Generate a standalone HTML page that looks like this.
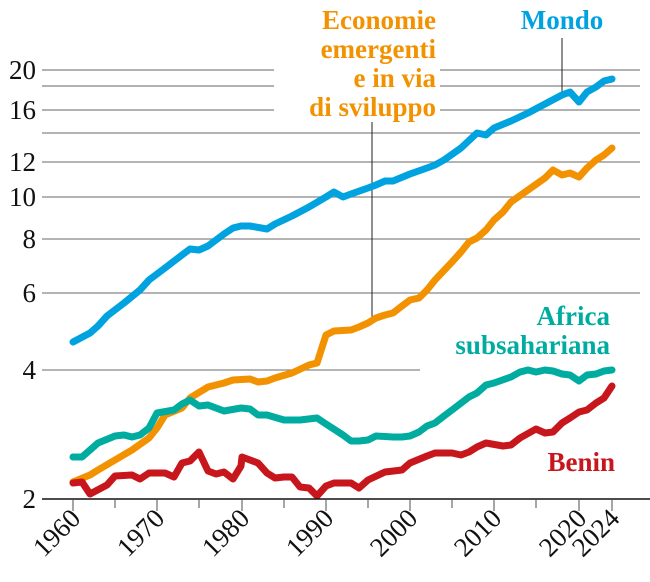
<!DOCTYPE html>
<html><head><meta charset="utf-8"><style>
html,body{margin:0;padding:0;background:#fff;}
svg{display:block;}
svg text{font-family:"Liberation Serif","DejaVu Serif",serif;}
</style></head><body>
<svg width="650" height="582" viewBox="0 0 650 582" font-family="Liberation Serif, serif">
<g stroke="#999" stroke-width="1.5">
<line x1="42" y1="70" x2="274" y2="70"/><line x1="440" y1="70" x2="640" y2="70"/>
<line x1="42" y1="86" x2="274" y2="86"/><line x1="440" y1="86" x2="640" y2="86"/>
<line x1="42" y1="110" x2="274" y2="110"/><line x1="440" y1="110" x2="640" y2="110"/>
</g>
<g stroke="#888" stroke-width="1.2">
<line x1="42" y1="133" x2="640" y2="133"/>
<line x1="42" y1="162" x2="640" y2="162"/>
<line x1="42" y1="197" x2="640" y2="197"/>
<line x1="42" y1="239" x2="640" y2="239"/>
<line x1="42" y1="293" x2="640" y2="293"/>
<line x1="42" y1="370" x2="420" y2="370"/>
</g>
<g font-size="27" fill="#111" text-anchor="end">
<text x="36" y="79">20</text><text x="36" y="119">16</text><text x="36" y="171">12</text>
<text x="36" y="206">10</text><text x="36" y="248">8</text><text x="36" y="302">6</text>
<text x="36" y="379">4</text><text x="36" y="508">2</text>
</g>
<g stroke="#777" stroke-width="1.3">
<line x1="73" y1="500" x2="73" y2="511"/><line x1="115" y1="500" x2="115" y2="508"/>
<line x1="157" y1="500" x2="157" y2="511"/><line x1="199" y1="500" x2="199" y2="508"/>
<line x1="242" y1="500" x2="242" y2="511"/><line x1="284" y1="500" x2="284" y2="508"/>
<line x1="326" y1="500" x2="326" y2="511"/><line x1="368" y1="500" x2="368" y2="508"/>
<line x1="410" y1="500" x2="410" y2="511"/><line x1="452" y1="500" x2="452" y2="508"/>
<line x1="494" y1="500" x2="494" y2="511"/><line x1="536" y1="500" x2="536" y2="508"/>
<line x1="579" y1="500" x2="579" y2="511"/><line x1="612" y1="500" x2="612" y2="511"/>
</g>
<g font-size="27" fill="#111" text-anchor="end">
<text transform="translate(82,520) rotate(-45)">1960</text>
<text transform="translate(166,520) rotate(-45)">1970</text>
<text transform="translate(251,520) rotate(-45)">1980</text>
<text transform="translate(335,520) rotate(-45)">1990</text>
<text transform="translate(419,520) rotate(-45)">2000</text>
<text transform="translate(503,520) rotate(-45)">2010</text>
<text transform="translate(588,520) rotate(-45)">2020</text>
<text transform="translate(621,520) rotate(-45)">2024</text>
</g>
<line x1="372" y1="122" x2="372" y2="318" stroke="#222" stroke-width="1"/>
<line x1="562" y1="38" x2="562" y2="95" stroke="#222" stroke-width="1"/>
<g fill="none" stroke-width="7" stroke-linejoin="round" stroke-linecap="round">
<polyline stroke="#00a3e0" points="73,342 90,333 98,326 107,316 124,303 140,290 149,280 165,268 182,255 190,249 199,250 208,246 224,234 233,228 241,226 250,226 267,229 275,224 292,216 309,207 326,197 334,192 343,197 351,194 368,188 376,185 385,181 393,181 410,174 427,168 435,165 444,160 461,148 477,133 486,135 494,128 511,121 528,113 545,104 562,95 570,92 579,102 587,92 596,87 604,81 612,79"/>
<polyline stroke="#f39200" points="73,482 90,475 98,470 115,460 132,450 149,438 157,428 165,415 182,408 190,398 208,387 224,383 233,380 250,379 258,382 267,381 275,378 292,373 309,365 317,363 326,335 334,331 351,330 359,327 368,323 376,318 385,315 393,313 402,306 410,300 419,298 427,290 435,280 452,262 461,252 469,242 477,238 486,230 494,220 503,212 511,202 528,190 545,178 553,170 562,175 570,173 579,177 587,168 596,160 604,155 612,148"/>
<polyline stroke="#00aca0" points="73,457 82,457 98,443 115,436 124,435 132,437 140,435 149,428 157,413 174,410 182,404 190,400 199,406 208,405 224,411 241,408 250,409 258,415 267,415 284,420 300,420 317,418 326,424 343,435 351,441 359,441 368,440 376,436 393,437 402,437 410,436 419,432 427,426 435,423 444,416 452,410 469,397 477,393 486,385 494,383 511,377 520,372 528,370 536,372 545,370 553,371 562,374 570,375 579,381 587,375 596,374 604,371 612,370"/>
<polyline stroke="#c8161d" points="73,483 82,482 90,494 107,485 115,476 132,475 140,479 149,473 165,473 174,477 182,463 190,461 199,452 208,471 216,474 224,472 233,479 241,466 242,457 258,463 267,473 275,478 284,477 292,477 300,487 309,488 317,496 326,486 334,483 351,483 359,488 368,480 385,472 402,470 410,463 427,456 435,453 452,453 461,455 469,452 477,447 486,443 503,446 511,445 520,438 536,429 545,433 553,432 562,423 570,418 579,412 587,410 596,403 604,398 612,386"/>
</g>
<line x1="42" y1="499" x2="650" y2="499" stroke="#111" stroke-width="1.5"/>
<g font-weight="bold" font-size="27">
<text x="562" y="29" fill="#00a3e0" text-anchor="middle">Mondo</text>
<g fill="#f39200" text-anchor="end">
<text x="436" y="29">Economie</text><text x="436" y="58">emergenti</text>
<text x="436" y="87">e in via</text><text x="436" y="116">di sviluppo</text>
</g>
<g fill="#00aca0" text-anchor="end">
<text x="610" y="325">Africa</text><text x="610" y="354">subsahariana</text>
</g>
<text x="615" y="471" fill="#c8161d" text-anchor="end">Benin</text>
</g>
</svg>
</body></html>
